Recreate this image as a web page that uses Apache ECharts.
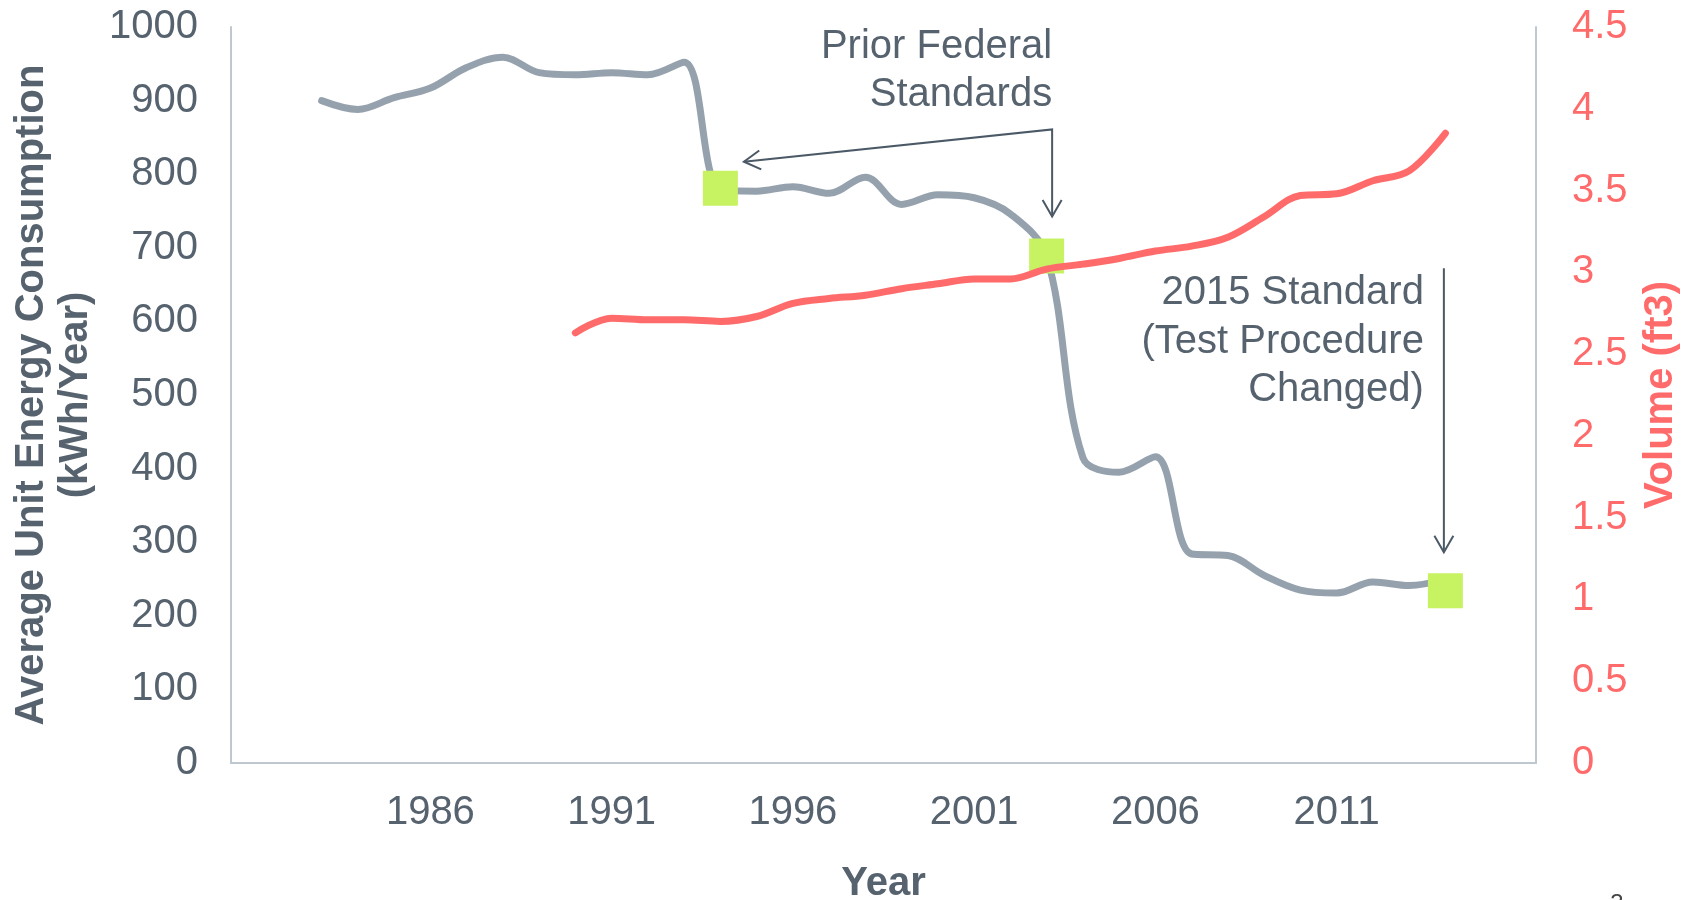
<!DOCTYPE html>
<html>
<head>
<meta charset="utf-8">
<title>Average Unit Energy Consumption and Volume</title>
<script src="https://cdn.jsdelivr.net/npm/echarts@6/dist/echarts.min.js"></script>
<style>
  html, body { margin: 0; padding: 0; background: #ffffff; }
  #chart { width: 1694px; height: 900px; }
</style>
</head>
<body>
<div id="chart"></div>
<script>
// Year categories on the horizontal axis
const years = ['1981','1982','1983','1984','1985','1986','1987','1988','1989','1990',
  '1991','1992','1993','1994','1995','1996','1997','1998','1999','2000',
  '2001','2002','2003','2004','2005','2006','2007','2008','2009','2010',
  '2011','2012','2013','2014','2015','2016'];

// Years that carry a tick label
const xTickLabels = ['1986','1991','1996','2001','2006','2011'];

// Average unit energy consumption, kWh/Year (1983-2014)
const energyUse = [null, null,
  900, 888, 904, 917, 945, 959, 938, 935,
  938, 935, 952, 779, 777, 783, 774, 796, 759, 772,
  768, 746, 689, 415, 395, 416, 284, 282, 255, 235,
  231, 246, 241, 250, null, null];

// Average volume, ft3 (1990-2014)
const volume = [null, null, null, null, null, null, null, null, null,
  2.63, 2.72, 2.71, 2.71, 2.70, 2.73, 2.81, 2.84, 2.86, 2.90, 2.93,
  2.96, 2.96, 3.02, 3.05, 3.085, 3.13, 3.16, 3.215, 3.34, 3.47,
  3.48, 3.56, 3.62, 3.85, null, null];

// Years in which a federal standard took effect, and the consumption level marked
const standardYears = ['1994', '2003', '2014'];
const standardValues = [781, 689, 234];

const FONT = "'Liberation Sans', Arial, Helvetica, sans-serif";
const TEXT = '#56636F';
const GREY = '#95A2AE';
const RED = '#FF6B6B';
const GREEN = '#C7F262';
const ARROW = '#4B5967';

const chart = echarts.init(document.getElementById('chart'), null, { renderer: 'canvas' });

const option = {
  animation: false,
  backgroundColor: '#ffffff',
  textStyle: { fontFamily: FONT },
  grid: { left: 231, right: 158, top: 27, bottom: 137, outerBoundsMode: 'none' },
  xAxis: {
    type: 'category',
    data: years,
    boundaryGap: true,
    name: 'Year',
    nameLocation: 'middle',
    nameGap: 99,
    nameTextStyle: { color: TEXT, fontSize: 40, fontWeight: 'bold', fontFamily: FONT, lineHeight: 44 },
    axisLine: { show: true, lineStyle: { color: '#BFC7D1', width: 2 } },
    axisTick: { show: false },
    splitLine: { show: false },
    axisLabel: {
      interval: (idx, val) => xTickLabels.includes(val),
      color: TEXT, fontSize: 40, fontFamily: FONT, margin: 30
    }
  },
  yAxis: [
    {
      type: 'value', min: 0, max: 1000, interval: 100,
      position: 'left',
      name: 'Average Unit Energy Consumption\n(kWh/Year)',
      nameLocation: 'middle',
      nameRotate: 90,
      nameGap: 118,
      nameTextStyle: { color: TEXT, fontSize: 40, fontWeight: 'bold', fontFamily: FONT, lineHeight: 44 },
      axisLine: { show: true, lineStyle: { color: '#BFC7D1', width: 2 } },
      axisTick: { show: false },
      splitLine: { show: false },
      axisLabel: { color: TEXT, fontSize: 40, fontFamily: FONT, margin: 33, formatter: (v) => String(v) }
    },
    {
      type: 'value', min: 0, max: 4.5, interval: 0.5,
      position: 'right',
      name: 'Volume (ft3)',
      nameLocation: 'middle',
      nameRotate: 90,
      nameGap: 100,
      nameTextStyle: { color: RED, fontSize: 40, fontWeight: 'bold', fontFamily: FONT, lineHeight: 44 },
      axisLine: { show: true, lineStyle: { color: '#BFC7D1', width: 2 } },
      axisTick: { show: false },
      splitLine: { show: false },
      axisLabel: { color: RED, fontSize: 40, fontFamily: FONT, margin: 36, formatter: (v) => String(v) }
    }
  ],
  series: [
    {
      name: 'Energy Consumption',
      type: 'line',
      yAxisIndex: 0,
      data: energyUse,
      smooth: 0.35,
      showSymbol: false,
      symbol: 'none',
      lineStyle: { color: GREY, width: 7, cap: 'round', join: 'round' },
      z: 2
    },
    {
      name: 'Standards',
      type: 'scatter',
      yAxisIndex: 0,
      data: standardYears.map((y, i) => [y, standardValues[i]]),
      symbol: 'rect',
      symbolSize: 35,
      itemStyle: { color: GREEN, opacity: 1 },
      z: 3
    },
    {
      name: 'Volume',
      type: 'line',
      yAxisIndex: 1,
      data: volume,
      smooth: 0.35,
      showSymbol: false,
      symbol: 'none',
      lineStyle: { color: RED, width: 7, cap: 'round', join: 'round' },
      z: 4
    }
  ]
};

chart.setOption(option);

// Annotation arrows and labels, anchored to the standard markers
function arrowHead(tip, from, len, spread) {
  const ang = Math.atan2(from[1] - tip[1], from[0] - tip[0]);
  const a1 = ang + spread, a2 = ang - spread;
  return [
    [tip[0] + len * Math.cos(a1), tip[1] + len * Math.sin(a1)],
    tip,
    [tip[0] + len * Math.cos(a2), tip[1] + len * Math.sin(a2)]
  ];
}

function annotations() {
  const px = (i) => chart.convertToPixel({ xAxisIndex: 0, yAxisIndex: 0 }, [standardYears[i], standardValues[i]]);
  const m1 = px(0), m2 = px(1), m3 = px(2);

  const tip1 = [m1[0] + 23.5, m1[1] - 26.5];
  const tip2 = [m2[0] + 5.5, m2[1] - 39.5];
  const corner = [tip2[0], tip2[1] - 87];
  const tip3 = [m3[0] - 1.5, m3[1] - 38.5];
  const top3 = [tip3[0], tip3[1] - 284];

  const lineStyle = { stroke: ARROW, lineWidth: 2, fill: null };
  const els = [
    { type: 'polyline', shape: { points: [tip1, corner, tip2] }, style: lineStyle },
    { type: 'polyline', shape: { points: arrowHead(tip1, corner, 19, Math.PI / 6) }, style: lineStyle },
    { type: 'polyline', shape: { points: arrowHead(tip2, corner, 19, Math.PI / 6) }, style: lineStyle },
    { type: 'polyline', shape: { points: [top3, tip3] }, style: lineStyle },
    { type: 'polyline', shape: { points: arrowHead(tip3, top3, 19, Math.PI / 6) }, style: lineStyle },
    {
      type: 'text',
      style: {
        text: 'Prior Federal\nStandards',
        x: corner[0], y: corner[1] - 106.5,
        align: 'right', verticalAlign: 'top',
        font: '40px ' + FONT, lineHeight: 48, fill: TEXT
      }
    },
    {
      type: 'text',
      style: {
        text: '2015 Standard\n(Test Procedure\nChanged)',
        x: top3[0] - 20, y: top3[1] + 1,
        align: 'right', verticalAlign: 'top',
        font: '40px ' + FONT, lineHeight: 48.3, fill: TEXT
      }
    },
    {
      type: 'text',
      style: {
        text: '3',
        x: 1617, y: 892,
        align: 'center', verticalAlign: 'top',
        font: '24px ' + FONT, fill: '#444444'
      }
    }
  ];
  chart.setOption({ graphic: { elements: els } });
}

annotations();
</script>
</body>
</html>
